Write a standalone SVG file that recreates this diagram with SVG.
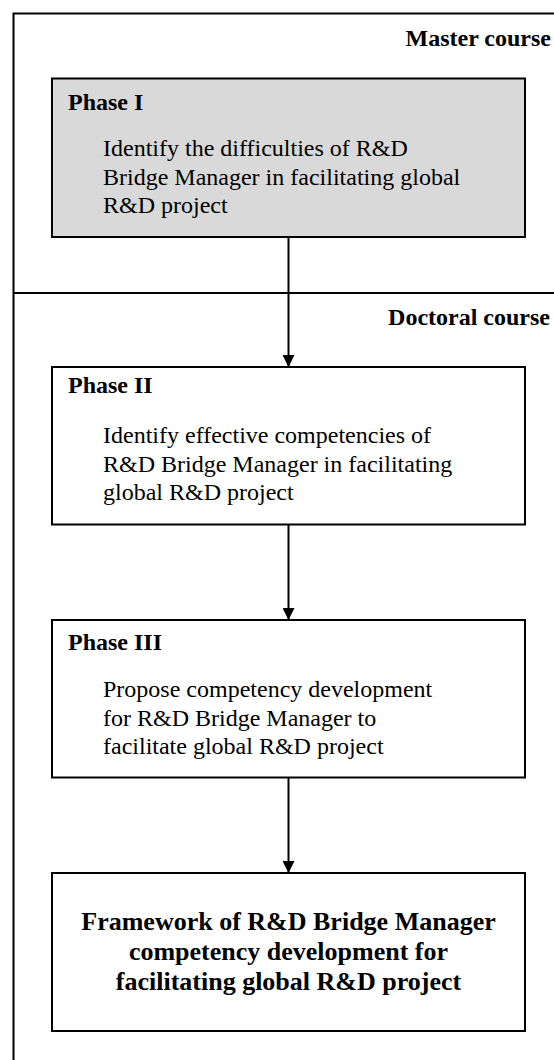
<svg xmlns="http://www.w3.org/2000/svg" width="554" height="1060" viewBox="0 0 554 1060">
  <style>
    .frame { fill: none; stroke: #000; stroke-width: 2; }
    .box { fill: #fff; stroke: #000; stroke-width: 2; }
    .box.shaded { fill: #d9d9d9; }
    .link { fill: none; stroke: #000; stroke-width: 2; }
    .course { font-family: "Liberation Serif", "Times New Roman", serif; font-size: 24px; font-weight: bold; fill: #000; text-anchor: end; }
    .head { font-family: "Liberation Serif", "Times New Roman", serif; font-size: 24px; font-weight: bold; fill: #000; }
    .body { font-family: "Liberation Serif", "Times New Roman", serif; font-size: 24px; fill: #000; }
    .final { font-family: "Liberation Serif", "Times New Roman", serif; font-size: 26px; font-weight: bold; fill: #000; text-anchor: middle; }
  </style>
  <defs>
    <marker id="arrow" viewBox="0 0 12 12" refX="12" refY="6" markerWidth="12" markerHeight="12" markerUnits="userSpaceOnUse" orient="auto">
      <path d="M0,0 L12,6 L0,12 Z" fill="#000"/>
    </marker>
  </defs>

  <rect width="554" height="1060" fill="#fff"/>

  <!-- course frame: outer border plus the master/doctoral divider -->
  <g id="frame">
    <path class="frame" d="M554,13.5 H13.5 V1060"/>
    <path class="frame" d="M13.5,293 H554"/>
    <text class="course" x="551" y="46">Master course</text>
    <text class="course" x="550" y="325">Doctoral course</text>
  </g>

  <!-- connectors -->
  <g id="connectors">
    <line class="link" x1="288.5" y1="237" x2="288.5" y2="367" marker-end="url(#arrow)"/>
    <line class="link" x1="288.5" y1="525" x2="288.5" y2="620" marker-end="url(#arrow)"/>
    <line class="link" x1="288.5" y1="777" x2="288.5" y2="873" marker-end="url(#arrow)"/>
  </g>

  <g id="phase1">
    <rect class="box shaded" x="52" y="78.5" width="473" height="158.5"/>
    <text class="head" x="68" y="110">Phase I</text>
    <text class="body" x="103" y="156">Identify the difficulties of R&amp;D</text>
    <text class="body" x="103" y="184.5">Bridge Manager in facilitating global</text>
    <text class="body" x="103" y="213">R&amp;D project</text>
  </g>

  <g id="phase2">
    <rect class="box" x="52" y="367" width="473" height="157.5"/>
    <text class="head" x="68" y="393">Phase II</text>
    <text class="body" x="103" y="443">Identify effective competencies of</text>
    <text class="body" x="103" y="471.5">R&amp;D Bridge Manager in facilitating</text>
    <text class="body" x="103" y="500">global R&amp;D project</text>
  </g>

  <g id="phase3">
    <rect class="box" x="52" y="620" width="473" height="157.5"/>
    <text class="head" x="68" y="650">Phase III</text>
    <text class="body" x="103" y="697">Propose competency development</text>
    <text class="body" x="103" y="725.5">for R&amp;D Bridge Manager to</text>
    <text class="body" x="103" y="754">facilitate global R&amp;D project</text>
  </g>

  <g id="framework">
    <rect class="box" x="52" y="873" width="473" height="158"/>
    <text class="final" x="288.5" y="930">Framework of R&amp;D Bridge Manager</text>
    <text class="final" x="288.5" y="960">competency development for</text>
    <text class="final" x="288.5" y="990">facilitating global R&amp;D project</text>
  </g>
</svg>
